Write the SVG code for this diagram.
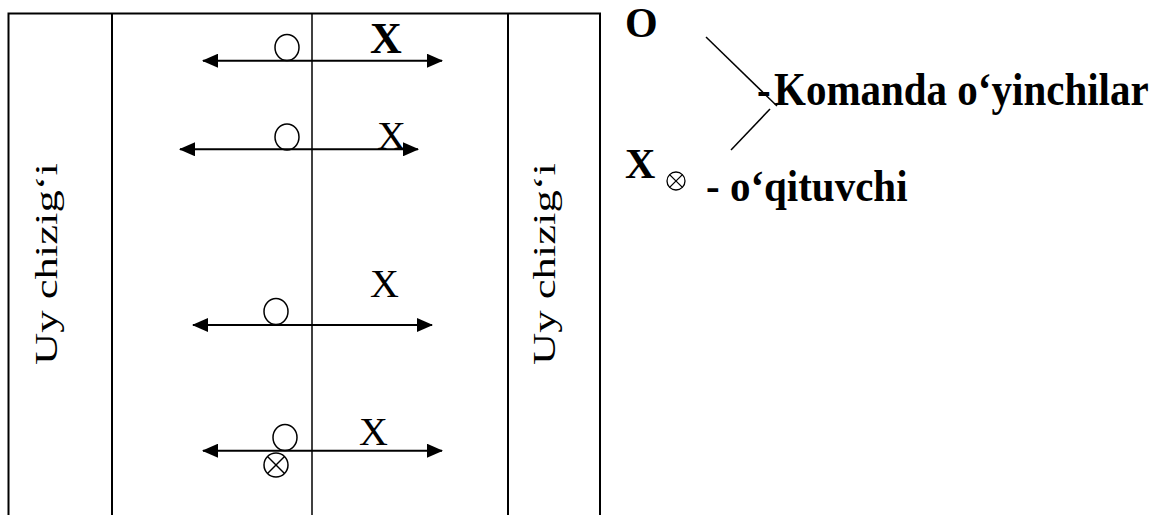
<svg xmlns="http://www.w3.org/2000/svg" width="1159" height="515" viewBox="0 0 1159 515">
<defs>
<style>
.frame{stroke:#000;stroke-width:2;fill:none}
.mid{stroke:#000;stroke-width:1.5;fill:none}
.arr{stroke:#000;stroke-width:2;fill:none;marker-start:url(#ah);marker-end:url(#ah)}
.pl{stroke:#000;stroke-width:1.5;fill:none}
.t{font-family:"Liberation Serif","Times New Roman",serif;fill:#000}
.b{font-weight:bold}
.lab{font-size:32px}
.x{font-size:40px}
.leg{font-size:42px;font-weight:bold}
.leg2{font-size:41px;font-weight:bold}
.ln{stroke:#000;stroke-width:1.5}
</style>
<marker id="ah" viewBox="0 0 16 14" refX="15" refY="7" markerWidth="16" markerHeight="14" markerUnits="userSpaceOnUse" orient="auto-start-reverse">
<path d="M0,0 L16,7 L0,14 Z" fill="#000"/>
</marker>
</defs>
<g id="field">
<path class="frame" d="M8.5,515 V13.5 H600 V515"/>
<line class="frame" x1="112" y1="13.5" x2="112" y2="515"/>
<line class="frame" x1="508" y1="13.5" x2="508" y2="515"/>
<line class="mid" x1="312" y1="13.5" x2="312" y2="515"/>
</g>
<g id="label-left">
<text class="t lab" transform="translate(57,365) rotate(-90)" textLength="202" lengthAdjust="spacingAndGlyphs">Uy chizig‘i</text>
</g>
<g id="label-right">
<text class="t lab" transform="translate(555,365) rotate(-90)" textLength="202" lengthAdjust="spacingAndGlyphs">Uy chizig‘i</text>
</g>
<g id="connectors">
<line class="arr" x1="203" y1="60.7" x2="442" y2="60.7"/>
<line class="arr" x1="180" y1="149.3" x2="418" y2="149.3"/>
<line class="arr" x1="193" y1="325" x2="432" y2="325"/>
<line class="arr" x1="203" y1="450.7" x2="442" y2="450.7"/>
</g>
<g id="row1">
<ellipse class="pl" cx="287" cy="47.5" rx="12" ry="13"/>
<text class="t b" x="370" y="53" font-size="44">X</text>
</g>
<g id="row2">
<ellipse class="pl" cx="287" cy="137" rx="12" ry="13"/>
<text class="t x" x="377" y="149">X</text>
</g>
<g id="row3">
<ellipse class="pl" cx="276" cy="311.5" rx="12" ry="13"/>
<text class="t x" x="370" y="297">X</text>
</g>
<g id="row4">
<ellipse class="pl" cx="285" cy="437.5" rx="12" ry="13"/>
<g id="teacher">
<circle class="pl" cx="276" cy="465" r="12"/>
<line class="ln" x1="267.5" y1="456.5" x2="284.5" y2="473.5"/>
<line class="ln" x1="284.5" y1="456.5" x2="267.5" y2="473.5"/>
</g>
<text class="t x" x="359" y="445">X</text>
</g>
<g id="legend">
<text class="t leg" x="625" y="37">O</text>
<text class="t leg" x="625" y="178">X</text>
<line class="ln" x1="706" y1="37" x2="777" y2="106"/>
<line class="ln" x1="731" y1="150" x2="770" y2="109"/>
<text class="t leg2" transform="translate(757,105) scale(1,1.15)">-</text>
<text class="t leg2" transform="translate(774,105) scale(1,1.15)">Komanda o‘yinchilar</text>
<g id="legend-teacher">
<circle cx="676" cy="181" r="9" fill="none" stroke="#000" stroke-width="1.3"/>
<line x1="669.6" y1="174.6" x2="682.4" y2="187.4" stroke="#000" stroke-width="1.3"/>
<line x1="682.4" y1="174.6" x2="669.6" y2="187.4" stroke="#000" stroke-width="1.3"/>
</g>
<text class="t leg2" transform="translate(706,201) scale(1,1.08)" font-size="46">- o‘qituvchi</text>
</g>
</svg>
